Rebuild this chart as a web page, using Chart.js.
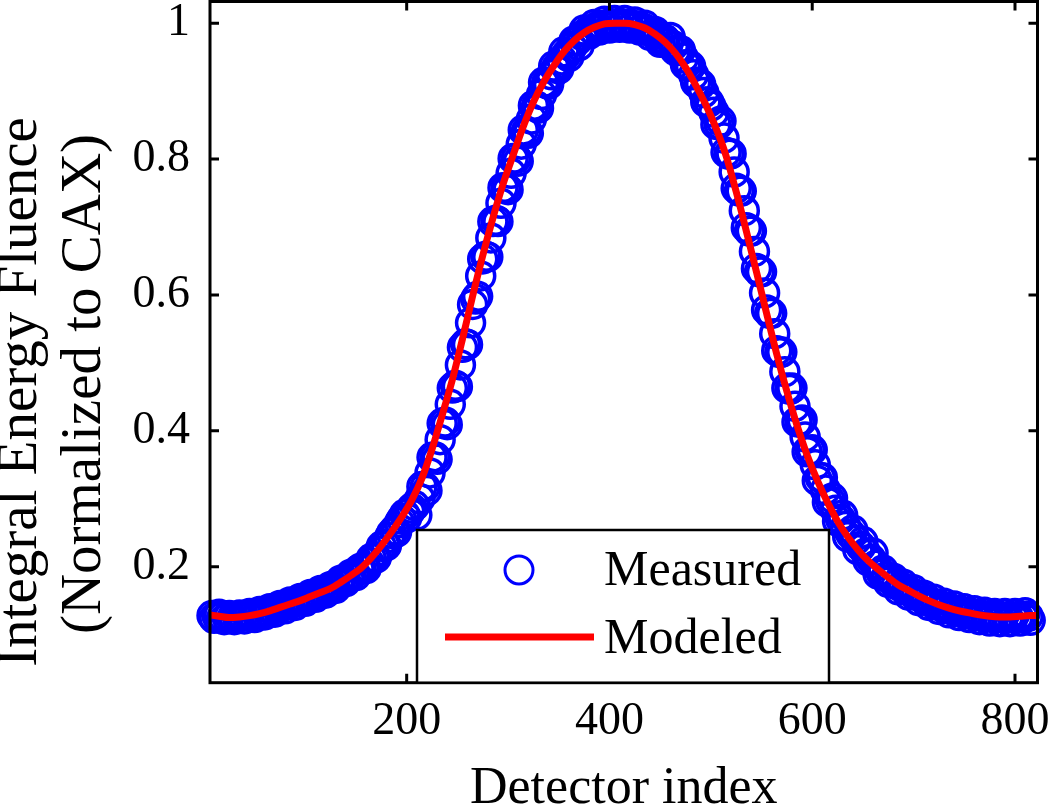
<!DOCTYPE html>
<html>
<head>
<meta charset="utf-8">
<script src="https://cdn.jsdelivr.net/npm/chart.js@4.4.1/dist/chart.umd.min.js"></script>
<style>
  html, body { margin: 0; padding: 0; background: #fff; }
  #c { display: block; }
</style>
</head>
<body>
<canvas id="c" width="1050" height="805"></canvas>
<script>
// ---------- data ----------
const xTickValues = [200, 400, 600, 800];
const xTickLabels = ['200', '400', '600', '800'];
const yTickValues = [0.2, 0.4, 0.6, 0.8, 1];
const yTickLabels = ['0.2', '0.4', '0.6', '0.8', '1'];

const xAxisTitle = 'Detector index';
const yAxisTitle = ['Integral Energy Fluence', '(Normalized to CAX)'];
const seriesNames = ['Measured', 'Modeled'];

const modeledX = [6, 15, 25, 35, 45, 55, 65, 75, 85, 95, 105, 115, 125, 135, 145, 155, 165, 175, 185, 195,
  205, 215, 225, 235, 245, 255, 265, 275, 285, 295, 305, 315, 325, 335, 345, 355, 365, 375, 385, 395,
  405, 415, 425, 435, 445, 455, 465, 475, 485, 495, 505, 515, 525, 535, 545, 555, 565, 575, 585, 595,
  605, 615, 625, 635, 645, 655, 665, 675, 685, 695, 705, 715, 725, 735, 745, 755, 765, 775, 785, 795,
  805, 815, 822];
const modeledY = [0.129, 0.127, 0.125, 0.126, 0.128, 0.131, 0.135, 0.140, 0.145, 0.150, 0.156, 0.162, 0.168, 0.177, 0.187, 0.198, 0.213, 0.231, 0.251, 0.273,
  0.298, 0.330, 0.373, 0.423, 0.475, 0.535, 0.598, 0.658, 0.713, 0.763, 0.806, 0.848, 0.884, 0.913, 0.937, 0.958, 0.974, 0.986, 0.994, 0.999,
  1.000, 1.000, 0.998, 0.993, 0.984, 0.972, 0.956, 0.935, 0.909, 0.880, 0.846, 0.805, 0.752, 0.694, 0.634, 0.573, 0.513, 0.458, 0.408, 0.364,
  0.327, 0.295, 0.267, 0.244, 0.225, 0.209, 0.196, 0.184, 0.173, 0.165, 0.157, 0.150, 0.144, 0.139, 0.135, 0.132, 0.129, 0.127, 0.126, 0.126,
  0.127, 0.128, 0.128];

// measured detectors, first subset
const measuredX = [10, 15, 20, 25, 30, 35, 40, 45, 50, 55, 60, 65, 70, 75, 80, 85, 90, 95, 100, 105,
  110, 115, 120, 125, 130, 135, 140, 145, 150, 155, 160, 165, 170, 175, 180, 185, 190, 195, 200, 205,
  210, 215, 220, 225, 230, 235, 240, 245, 250, 255, 260, 265, 270, 275, 280, 285, 290, 295, 300, 305,
  310, 315, 320, 325, 330, 335, 340, 345, 350, 355, 360, 365, 370, 375, 380, 385, 390, 395, 400, 405,
  410, 415, 420, 425, 430, 435, 440, 445, 450, 455, 460, 465, 470, 475, 480, 485, 490, 495, 500, 505,
  510, 515, 520, 525, 530, 535, 540, 545, 550, 555, 560, 565, 570, 575, 580, 585, 590, 595, 600, 605,
  610, 615, 620, 625, 630, 635, 640, 645, 650, 655, 660, 665, 670, 675, 680, 685, 690, 695, 700, 705,
  710, 715, 720, 725, 730, 735, 740, 745, 750, 755, 760, 765, 770, 775, 780, 785, 790, 795, 800, 805,
  810, 815];
const measuredY = [0.124, 0.130, 0.122, 0.128, 0.122, 0.129, 0.123, 0.131, 0.125, 0.134, 0.129, 0.138, 0.133, 0.143, 0.138, 0.148, 0.143, 0.153, 0.149, 0.159,
  0.155, 0.165, 0.161, 0.171, 0.168, 0.180, 0.178, 0.189, 0.187, 0.198, 0.197, 0.212, 0.213, 0.230, 0.231, 0.249, 0.251, 0.270, 0.272, 0.286,
  0.276, 0.318, 0.312, 0.361, 0.358, 0.411, 0.409, 0.463, 0.465, 0.523, 0.527, 0.586, 0.598, 0.653, 0.656, 0.708, 0.708, 0.758, 0.755, 0.801,
  0.797, 0.843, 0.838, 0.879, 0.875, 0.913, 0.910, 0.937, 0.933, 0.958, 0.951, 0.974, 0.967, 0.990, 0.984, 0.998, 0.990, 1.003, 0.993, 1.004,
  0.994, 1.004, 0.993, 1.002, 0.990, 0.997, 0.982, 0.988, 0.972, 0.976, 0.979, 0.960, 0.960, 0.939, 0.937, 0.913, 0.910, 0.884, 0.878, 0.851,
  0.856, 0.810, 0.808, 0.757, 0.753, 0.699, 0.694, 0.639, 0.634, 0.578, 0.573, 0.518, 0.516, 0.463, 0.463, 0.413, 0.416, 0.369, 0.372, 0.327,
  0.331, 0.295, 0.301, 0.267, 0.276, 0.244, 0.254, 0.225, 0.237, 0.209, 0.220, 0.189, 0.195, 0.177, 0.183, 0.166, 0.174, 0.158, 0.166, 0.150,
  0.158, 0.143, 0.152, 0.137, 0.146, 0.132, 0.142, 0.128, 0.138, 0.125, 0.135, 0.122, 0.133, 0.120, 0.131, 0.119, 0.131, 0.119, 0.131, 0.120,
  0.132, 0.121];

// measured detectors, second (interleaved) subset
const measuredX2 = [8, 13, 18, 23, 28, 33, 38, 43, 48, 53, 58, 63, 68, 73, 78, 83, 88, 93, 98, 103,
  108, 113, 118, 123, 128, 133, 138, 143, 148, 153, 158, 163, 168, 173, 178, 183, 188, 193, 198, 203,
  208, 213, 218, 223, 228, 233, 238, 243, 248, 253, 258, 263, 268, 273, 278, 283, 288, 293, 298, 303,
  308, 313, 318, 323, 328, 333, 338, 343, 348, 353, 358, 363, 368, 373, 378, 383, 388, 393, 398, 403,
  408, 413, 418, 423, 428, 433, 438, 443, 448, 453, 458, 463, 468, 473, 478, 483, 488, 493, 498, 503,
  508, 513, 518, 523, 528, 533, 538, 543, 548, 553, 558, 563, 568, 573, 578, 583, 588, 593, 598, 603,
  608, 613, 618, 623, 628, 633, 638, 643, 648, 653, 658, 663, 668, 673, 678, 683, 688, 693, 698, 703,
  708, 713, 718, 723, 728, 733, 738, 743, 748, 753, 758, 763, 768, 773, 778, 783, 788, 793, 798, 803,
  808, 813];
const measuredY2 = [0.128, 0.127, 0.126, 0.125, 0.125, 0.126, 0.127, 0.128, 0.129, 0.130, 0.132, 0.134, 0.137, 0.139, 0.142, 0.144, 0.147, 0.149, 0.152, 0.155,
  0.158, 0.161, 0.164, 0.167, 0.171, 0.175, 0.180, 0.185, 0.190, 0.196, 0.199, 0.206, 0.214, 0.223, 0.233, 0.243, 0.254, 0.265, 0.277, 0.281,
  0.290, 0.300, 0.317, 0.338, 0.362, 0.387, 0.413, 0.439, 0.467, 0.497, 0.528, 0.559, 0.594, 0.628, 0.657, 0.684, 0.710, 0.735, 0.758, 0.779,
  0.801, 0.822, 0.841, 0.859, 0.878, 0.895, 0.912, 0.924, 0.935, 0.946, 0.955, 0.965, 0.974, 0.982, 0.987, 0.991, 0.995, 0.997, 0.998, 0.999,
  0.999, 0.999, 0.998, 0.997, 0.996, 0.993, 0.989, 0.985, 0.979, 0.974, 0.971, 0.967, 0.960, 0.949, 0.937, 0.924, 0.910, 0.898, 0.884, 0.869,
  0.852, 0.831, 0.807, 0.781, 0.753, 0.724, 0.694, 0.664, 0.634, 0.603, 0.573, 0.543, 0.515, 0.487, 0.461, 0.436, 0.413, 0.391, 0.371, 0.350,
  0.331, 0.313, 0.297, 0.283, 0.270, 0.259, 0.248, 0.239, 0.230, 0.220, 0.211, 0.202, 0.191, 0.185, 0.180, 0.174, 0.170, 0.166, 0.162, 0.158,
  0.154, 0.150, 0.147, 0.144, 0.141, 0.139, 0.137, 0.135, 0.133, 0.132, 0.130, 0.129, 0.127, 0.126, 0.126, 0.125, 0.125, 0.125, 0.125, 0.126,
  0.126, 0.127];

// ---------- styling ----------
const FONT = "'Liberation Serif', 'DejaVu Serif', 'Times New Roman', serif";
const BLUE = '#0000ff';
const RED = '#ff0000';

const measuredPoints = measuredX.map((x, i) => ({ x: x, y: measuredY[i] }))
  .concat(measuredX2.map((x, i) => ({ x: x, y: measuredY2[i] })));
const modeledPoints = modeledX.map((x, i) => ({ x: x, y: modeledY[i] }));

const noPad = s => { s.paddingTop = 0; s.paddingBottom = 0; s.paddingLeft = 0; s.paddingRight = 0; };

const framePlugin = {
  id: 'framePlugin',
  afterDatasetsDraw(chart) {
    const { ctx, chartArea: a, scales } = chart;
    const sx = scales.x, sy = scales.y;
    ctx.save();
    ctx.strokeStyle = '#000';
    ctx.lineWidth = 3;
    ctx.lineCap = 'butt';
    // inward tick marks on all four sides
    ctx.beginPath();
    sx.ticks.forEach(t => {
      const px = sx.getPixelForValue(t.value);
      ctx.moveTo(px, a.bottom); ctx.lineTo(px, a.bottom - 9);
      ctx.moveTo(px, a.top); ctx.lineTo(px, a.top + 9);
    });
    sy.ticks.forEach(t => {
      const py = sy.getPixelForValue(t.value);
      ctx.moveTo(a.left, py); ctx.lineTo(a.left + 9, py);
      ctx.moveTo(a.right, py); ctx.lineTo(a.right - 9, py);
    });
    ctx.stroke();
    // box
    ctx.strokeRect(a.left, a.top, a.right - a.left, a.bottom - a.top);

    // legend (bottom centre of plot)
    const lx = 417, ly = 530, lw = 412, lh = a.bottom - 530;
    ctx.fillStyle = '#fff';
    ctx.fillRect(lx, ly, lw, lh);
    ctx.lineWidth = 2.5;
    ctx.strokeRect(lx, ly, lw, lh);
    const ds = chart.data.datasets;
    const m = ds.find(d => d.label === seriesNames[0]);
    const r = ds.find(d => d.label === seriesNames[1]);
    ctx.beginPath();
    ctx.arc(519, 570, m.pointRadius, 0, Math.PI * 2);
    ctx.strokeStyle = m.pointBorderColor;
    ctx.lineWidth = 3;
    ctx.stroke();
    ctx.beginPath();
    ctx.moveTo(445, 637); ctx.lineTo(594, 637);
    ctx.strokeStyle = r.borderColor;
    ctx.lineWidth = r.borderWidth;
    ctx.stroke();
    ctx.fillStyle = '#000';
    ctx.font = '50px ' + FONT;
    ctx.textAlign = 'left';
    ctx.textBaseline = 'middle';
    ctx.fillText(m.label, 604, 572);
    ctx.fillText(r.label, 604, 640);
    ctx.restore();
  },
  afterDraw(chart) {
    const { ctx } = chart;
    ctx.save();
    ctx.fillStyle = '#000';
    ctx.font = '57px ' + FONT;
    ctx.textAlign = 'center';
    ctx.textBaseline = 'middle';
    const centres = [[21, 392], [85, 384]];
    yAxisTitle.forEach((line, i) => {
      ctx.save();
      ctx.translate(centres[i][0], centres[i][1]);
      ctx.rotate(-Math.PI / 2);
      ctx.fillText(line, 0, 0);
      ctx.restore();
    });
    ctx.restore();
  }
};

new Chart(document.getElementById('c'), {
  type: 'scatter',
  data: {
    datasets: [
      {
        label: seriesNames[1],
        data: modeledPoints,
        showLine: true,
        borderColor: RED,
        backgroundColor: RED,
        borderWidth: 7,
        pointRadius: 0,
        pointHoverRadius: 0,
        cubicInterpolationMode: 'monotone',
        order: 0
      },
      {
        label: seriesNames[0],
        data: measuredPoints,
        showLine: false,
        pointStyle: 'circle',
        pointRadius: 14,
        pointBorderWidth: 3.5,
        pointBorderColor: BLUE,
        pointBackgroundColor: 'rgba(0,0,0,0)',
        borderColor: BLUE,
        backgroundColor: 'rgba(0,0,0,0)',
        clip: false,
        order: 1
      }
    ]
  },
  options: {
    responsive: false,
    animation: false,
    events: [],
    layout: { autoPadding: false, padding: { top: 1.5, right: 12.5, left: 0, bottom: 0 } },
    plugins: {
      legend: { display: false },
      tooltip: { enabled: false },
      title: { display: false }
    },
    scales: {
      x: {
        type: 'linear',
        position: 'bottom',
        min: 6,
        max: 822.2,
        grid: { display: false, drawTicks: false },
        border: { display: false },
        afterBuildTicks: s => { s.ticks = xTickValues.map(v => ({ value: v })); },
        afterFit: s => { s.height = 122.3; noPad(s); },
        ticks: {
          autoSkip: false,
          maxRotation: 0,
          padding: 12,
          color: '#000',
          font: { family: FONT, size: 46 },
          callback: (v, i) => xTickLabels[i]
        },
        title: {
          display: true,
          text: xAxisTitle,
          color: '#000',
          font: { family: FONT, size: 52, lineHeight: 1 },
          padding: { top: 0, bottom: -10 }
        }
      },
      y: {
        type: 'linear',
        position: 'left',
        min: 0.0292,
        max: 1.032,
        grid: { display: false, drawTicks: false },
        border: { display: false },
        afterBuildTicks: s => { s.ticks = yTickValues.map(v => ({ value: v })); },
        afterFit: s => { s.width = 210; noPad(s); },
        ticks: {
          autoSkip: false,
          padding: 20,
          color: '#000',
          font: { family: FONT, size: 46 },
          callback: (v, i) => yTickLabels[i]
        },
        title: { display: false }
      }
    }
  },
  plugins: [framePlugin]
});
</script>
</body>
</html>
